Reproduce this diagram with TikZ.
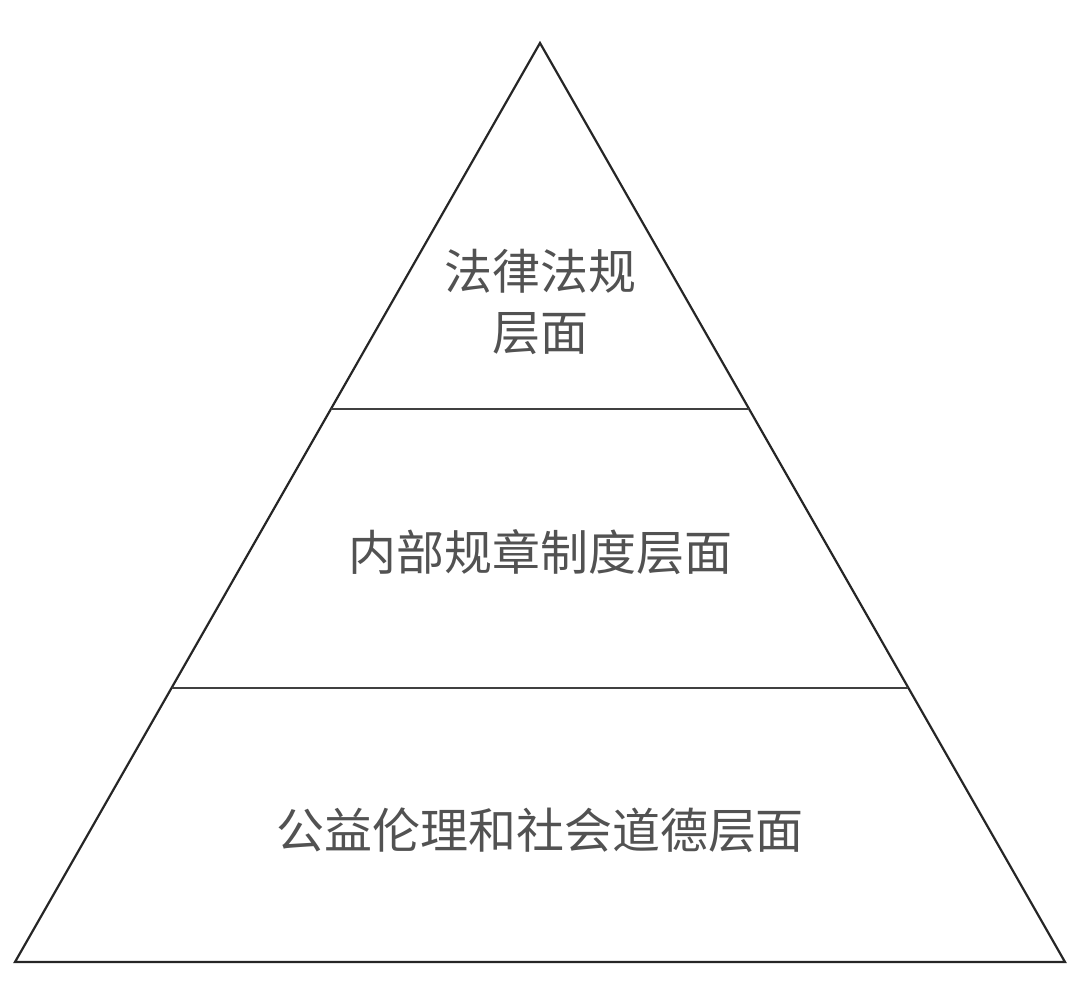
\documentclass[tikz,border=0pt]{standalone}
\usepackage{fontspec}
\newfontfamily\cjk{Noto Sans CJK SC}
\begin{document}
\begin{tikzpicture}[x=1pt,y=-1pt,
  lbl/.style={font=\cjk\fontsize{48}{61}\selectfont, text=black!68, align=center, inner sep=0pt},
  edge/.style={draw=black!85, line width=2.2pt, line join=miter}]
\useasboundingbox (0,0) rectangle (1080,1001);
\coordinate (apex) at (540,43);
\coordinate (bl) at (15,962);
\coordinate (br) at (1065,962);
\coordinate (a1) at (331,409);
\coordinate (a2) at (749,409);
\coordinate (b1) at (172,688);
\coordinate (b2) at (908,688);
\draw[edge] (apex) -- (br) -- (bl) -- cycle;
\draw[draw=black!75, line width=2pt] (a1) -- (a2);
\draw[draw=black!75, line width=2pt] (b1) -- (b2);
\node[lbl] (t1) at (540,302) {法律法规\\层面};
\node[lbl] (t2) at (540,552) {内部规章制度层面};
\node[lbl] (t3) at (540,830) {公益伦理和社会道德层面};
\end{tikzpicture}
\end{document}
